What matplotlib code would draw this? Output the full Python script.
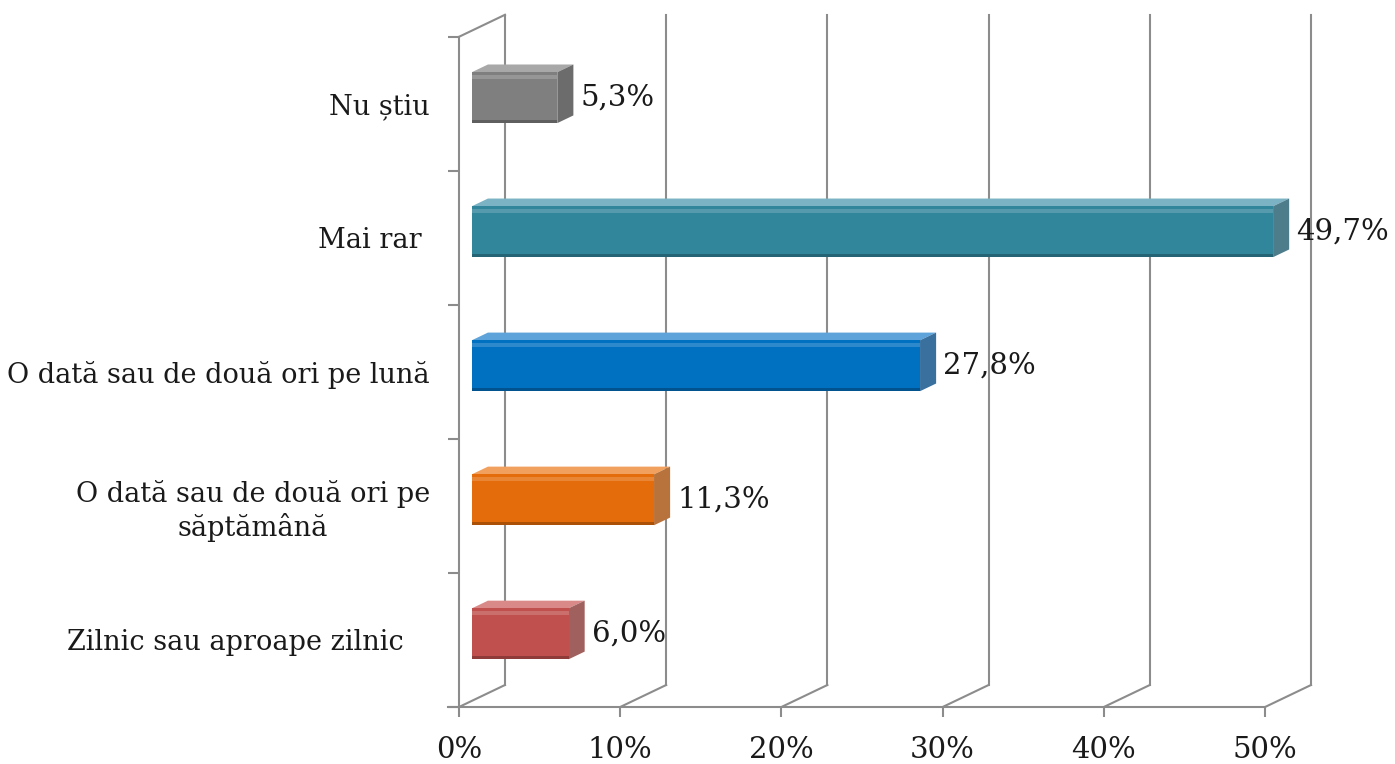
import numpy as np
import matplotlib.pyplot as plt
from matplotlib.patches import Polygon

# data, bottom to top
categories = ['Zilnic sau aproape zilnic   ',
              'O dată sau de două ori pe\nsăptămână',
              'O dată sau de două ori pe lună',
              'Mai rar ',
              'Nu știu']
values = [6.0, 11.3, 27.8, 49.7, 5.3]
value_labels = ['6,0%', '11,3%', '27,8%', '49,7%', '5,3%']
x_ticks = [0, 10, 20, 30, 40, 50]
x_tick_labels = ['0%', '10%', '20%', '30%', '40%', '50%']

front_colors = ['#c0504d', '#e46c0a', '#0070c0', '#31869b', '#7f7f7f']
top_colors = ['#d98a88', '#f2a05e', '#5ea3d9', '#7bb3c4', '#a8a8a8']
side_colors = ['#a0605e', '#b8733c', '#3a709e', '#4d7c8a', '#6c6c6c']

plt.rcParams['font.family'] = ['DejaVu Serif']
grid_col = '#8c8c8c'
txt_col = '#1a1a1a'

# 3d look: depth offset of the back wall, bar position inside depth
DX, DY = 2.85, 0.164
t_front, t_back = 0.28, 0.63
h = 0.19

fig = plt.figure(figsize=(13.95, 7.64), dpi=100)
W, H = 1395, 764
ax = fig.add_axes([459 / W, (H - 707) / H, (1311 - 459) / W, (707 - 14) / H])
ax.set_xlim(0, 50 + DX)
ax.set_ylim(-0.5, 4.5 + DY + 0.006)
for s in ax.spines.values():
    s.set_visible(False)

# walls / grid
ax.plot([0, 0], [-0.5, 4.5], color=grid_col, lw=1.5, clip_on=False)
ax.plot([0, DX], [4.5, 4.5 + DY], color=grid_col, lw=1.5, clip_on=False)
ax.plot([-0.7, 50], [-0.5, -0.5], color=grid_col, lw=1.5, clip_on=False)
for xt in x_ticks:
    ax.plot([xt, xt + DX], [-0.5, -0.5 + DY], color=grid_col, lw=1.5, clip_on=False)
    ax.plot([xt + DX, xt + DX], [-0.5 + DY, 4.5 + DY], color=grid_col, lw=1.5, clip_on=False)

# bars
ddx = (t_back - t_front) * DX
ddy = (t_back - t_front) * DY
for i, v in enumerate(values):
    fx0 = t_front * DX
    fy0 = i - h + t_front * DY
    fy1 = fy0 + 2 * h
    front = [(fx0, fy0), (fx0 + v, fy0), (fx0 + v, fy1), (fx0, fy1)]
    top = [(fx0, fy1), (fx0 + v, fy1), (fx0 + v + ddx, fy1 + ddy), (fx0 + ddx, fy1 + ddy)]
    side = [(fx0 + v, fy0), (fx0 + v + ddx, fy0 + ddy), (fx0 + v + ddx, fy1 + ddy), (fx0 + v, fy1)]
    ax.add_patch(Polygon(top, closed=True, fc=top_colors[i], ec='none', zorder=3))
    ax.add_patch(Polygon(side, closed=True, fc=side_colors[i], ec='none', zorder=3))
    ax.add_patch(Polygon(front, closed=True, fc=front_colors[i], ec='none', zorder=4))
    # highlight and shadow strips on the front face
    ax.add_patch(Polygon([(fx0, fy1 - 0.05), (fx0 + v, fy1 - 0.05), (fx0 + v, fy1 - 0.02), (fx0, fy1 - 0.02)],
                         closed=True, fc='white', alpha=0.18, ec='none', zorder=5))
    ax.add_patch(Polygon([(fx0, fy0), (fx0 + v, fy0), (fx0 + v, fy0 + 0.025), (fx0, fy0 + 0.025)],
                         closed=True, fc='black', alpha=0.25, ec='none', zorder=5))
    ax.annotate(value_labels[i], (fx0 + v + ddx, i + t_front * DY), xytext=(5, 0),
                textcoords='offset points', ha='left', va='center', fontsize=21, color=txt_col)

# ticks
ax.set_xticks(x_ticks)
ax.set_xticklabels(x_tick_labels, fontsize=21, color=txt_col)
ax.tick_params(axis='x', direction='out', length=7, width=1.5, color=grid_col, pad=14)
ax.set_yticks(np.arange(-0.5, 5, 1))
ax.set_yticklabels([])
ax.tick_params(axis='y', which='major', direction='out', length=8, width=1.5, color=grid_col)
ax.set_yticks(np.arange(len(categories)), minor=True)
ax.set_yticklabels(categories, minor=True, fontsize=19.5, color=txt_col)
ax.tick_params(axis='y', which='minor', length=0, pad=21)
for lab in ax.get_yticklabels(minor=True):
    lab.set_multialignment('center')

fig.savefig('out.png', dpi=100)
